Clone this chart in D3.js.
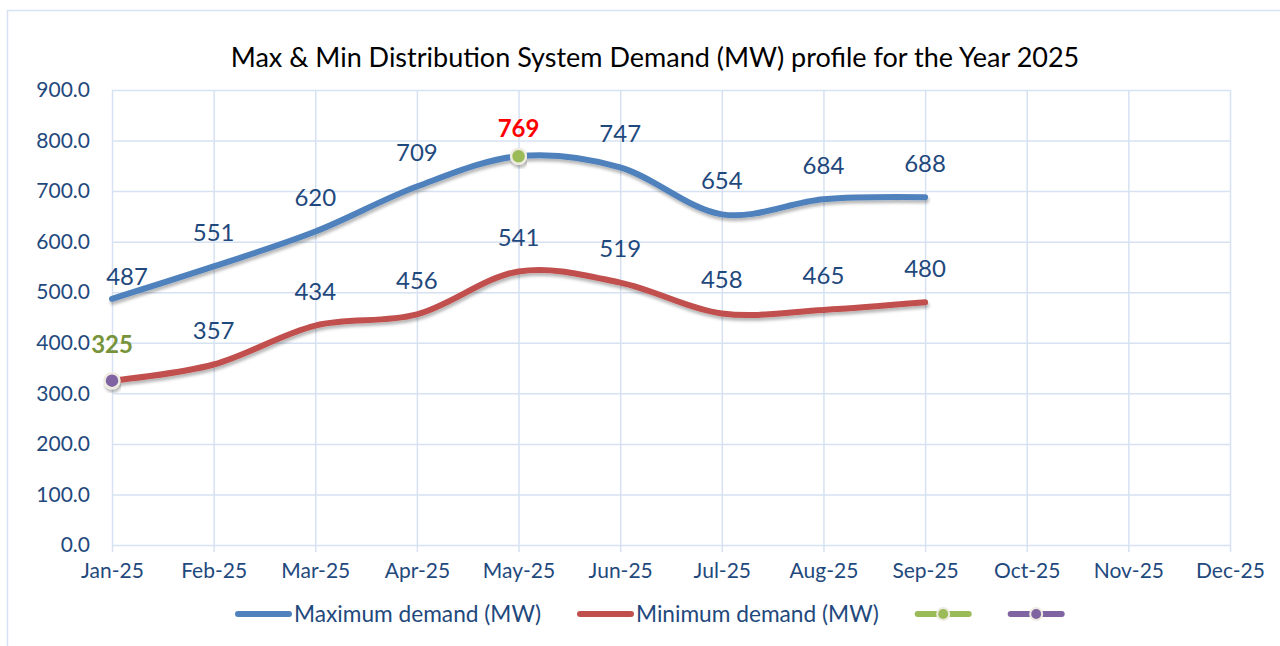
<!DOCTYPE html>
<html>
<head>
<meta charset="utf-8">
<script src="https://cdn.jsdelivr.net/npm/d3@7"></script>
<style>
  body { margin: 0; background: #fff; }
  svg { display: block; font-family: Lato, "Open Sans", sans-serif; }
</style>
</head>
<body>
<svg id="chart"></svg>
<script>
// chart data
const months = ["Jan-25", "Feb-25", "Mar-25", "Apr-25", "May-25", "Jun-25",
                "Jul-25", "Aug-25", "Sep-25", "Oct-25", "Nov-25", "Dec-25"];
const maxDemand = [487, 551, 620, 709, 769, 747, 654, 684, 688, null, null, null];
const minDemand = [325, 357, 434, 456, 541, 519, 458, 465, 480, null, null, null];
const peakMax = [null, null, null, null, 769, null, null, null, null, null, null, null];
const lowMin = [325, null, null, null, null, null, null, null, null, null, null, null];
const yTicks = [0, 100, 200, 300, 400, 500, 600, 700, 800, 900];
const seriesNames = ["Maximum demand (MW)", "Minimum demand (MW)", "", ""];

const W = 1280, H = 646;
const margin = { top: 90, right: 50, bottom: 101, left: 112 },
    width = W - margin.left - margin.right,
    height = H - margin.top - margin.bottom;

const textBlue = "#1F497D";
const gridColor = "#D6E2F2";
const colors = ["#4F81BD", "#C0504D", "#9BBB59", "#8064A2"];

const svg = d3.select("#chart")
    .attr("width", W)
    .attr("height", H);

// soft shadow under the lines
const defs = svg.append("defs");
defs.append("filter")
    .attr("id", "shadow")
    .attr("x", "-5%").attr("y", "-20%")
    .attr("width", "110%").attr("height", "150%")
    .append("feDropShadow")
    .attr("dx", 1).attr("dy", 3)
    .attr("stdDeviation", 1.6)
    .attr("flood-color", "#000")
    .attr("flood-opacity", 0.28);

// chart area border
svg.append("rect")
    .attr("x", 7.5).attr("y", 10.5)
    .attr("width", W + 20).attr("height", H + 20)
    .attr("fill", "none")
    .attr("stroke", gridColor)
    .attr("stroke-width", 1.5);

// title
svg.append("text")
    .attr("x", 655)
    .attr("y", 67)
    .attr("text-anchor", "middle")
    .attr("font-size", 27)
    .attr("fill", "#000")
    .text("Max & Min Distribution System Demand (MW) profile for the Year 2025");

const g = svg.append("g")
    .attr("transform", `translate(${margin.left},${margin.top})`);

const x = d3.scalePoint()
    .domain(months)
    .range([0, width]);

const y = d3.scaleLinear()
    .domain([0, 900])
    .range([height, 0]);

// horizontal gridlines + y labels
const yAxis = g.append("g")
    .call(d3.axisLeft(y).tickValues(yTicks).tickSize(-width).tickPadding(22)
        .tickFormat(d3.format(".1f")));
yAxis.select(".domain").remove();
yAxis.selectAll(".tick line")
    .attr("stroke", gridColor)
    .attr("stroke-width", 1.5);
yAxis.selectAll(".tick text")
    .attr("fill", textBlue)
    .attr("font-size", 21)
    .attr("font-family", "Lato, sans-serif");

// vertical gridlines + x labels
const xAxis = g.append("g")
    .attr("transform", `translate(0,${height})`)
    .call(d3.axisBottom(x).tickSizeInner(-height).tickSizeOuter(0).tickPadding(18));
xAxis.select(".domain").remove();
xAxis.selectAll(".tick line")
    .attr("stroke", gridColor)
    .attr("stroke-width", 1.5)
    .attr("y2", 7);
xAxis.selectAll(".tick").append("line")
    .attr("y1", 0).attr("y2", -height)
    .attr("stroke", gridColor)
    .attr("stroke-width", 1.5);
xAxis.selectAll(".tick text")
    .attr("fill", textBlue)
    .attr("font-size", 21)
    .attr("font-family", "Lato, sans-serif");

// lines
const line = d3.line()
    .defined(d => d.v != null)
    .x(d => x(d.m))
    .y(d => y(d.v))
    .curve(d3.curveCardinal.tension(0));

const toPts = arr => months.map((m, i) => ({ m: m, v: arr[i] }));

[maxDemand, minDemand].forEach((arr, k) => {
    g.append("path")
        .datum(toPts(arr))
        .attr("d", line)
        .attr("fill", "none")
        .attr("stroke", colors[k])
        .attr("stroke-width", 6)
        .attr("stroke-linecap", "round")
        .attr("stroke-linejoin", "round")
        .attr("filter", "url(#shadow)");
});

// single marker points
[peakMax, lowMin].forEach((arr, k) => {
    g.selectAll(null)
        .data(toPts(arr).filter(d => d.v != null))
        .enter()
        .append("circle")
        .attr("cx", d => x(d.m))
        .attr("cy", d => y(d.v))
        .attr("r", 7.5)
        .attr("fill", colors[k + 2])
        .attr("stroke", "#EEECE1")
        .attr("stroke-width", 2.5)
        .attr("filter", "url(#shadow)");
});

// data labels
g.selectAll(".max-label")
    .data(toPts(maxDemand).filter(d => d.v != null && peakMax[months.indexOf(d.m)] == null))
    .enter()
    .append("text")
    .attr("class", "max-label")
    .attr("x", d => x(d.m) + (d.m === months[0] ? 15 : 0))
    .attr("y", d => y(d.v) - (d.m === months[0] ? 22 : 34))
    .attr("dy", "0.35em")
    .attr("text-anchor", "middle")
    .attr("font-size", 24)
    .attr("fill", textBlue)
    .text(d => d.v);

g.selectAll(".min-label")
    .data(toPts(minDemand).filter(d => d.v != null && lowMin[months.indexOf(d.m)] == null))
    .enter()
    .append("text")
    .attr("class", "min-label")
    .attr("x", d => x(d.m))
    .attr("y", d => y(d.v) - 34)
    .attr("dy", "0.35em")
    .attr("text-anchor", "middle")
    .attr("font-size", 24)
    .attr("fill", textBlue)
    .text(d => d.v);

g.selectAll(".peak-label")
    .data(toPts(peakMax).filter(d => d.v != null))
    .enter()
    .append("text")
    .attr("x", d => x(d.m))
    .attr("y", d => y(d.v) - 28)
    .attr("dy", "0.35em")
    .attr("text-anchor", "middle")
    .attr("font-size", 24)
    .attr("font-weight", "bold")
    .attr("fill", "#FF0000")
    .text(d => d.v);

g.selectAll(".low-label")
    .data(toPts(lowMin).filter(d => d.v != null))
    .enter()
    .append("text")
    .attr("x", d => x(d.m))
    .attr("y", d => y(d.v) - 36)
    .attr("dy", "0.35em")
    .attr("text-anchor", "middle")
    .attr("font-size", 24)
    .attr("font-weight", "bold")
    .attr("fill", "#77933C")
    .text(d => d.v);

// legend
const legend = svg.append("g").attr("transform", "translate(235,614)");
let lx = 0;
seriesNames.forEach((name, k) => {
    const item = legend.append("g").attr("transform", `translate(${lx},0)`);
    item.append("line")
        .attr("x1", 3).attr("x2", 54)
        .attr("stroke", colors[k])
        .attr("stroke-width", 6)
        .attr("stroke-linecap", "round");
    if (k >= 2) {
        item.append("circle")
            .attr("cx", 28.5).attr("r", 6)
            .attr("fill", colors[k])
            .attr("stroke", "#EEECE1")
            .attr("stroke-width", 2);
    }
    const t = item.append("text")
        .attr("x", 59)
        .attr("dy", "0.35em")
        .attr("font-size", 22.7)
        .attr("fill", textBlue)
        .text(name);
    const tw = name ? t.node().getComputedTextLength() + 2 : 0;
    lx += 59 + tw + 34;
});
</script>
</body>
</html>
